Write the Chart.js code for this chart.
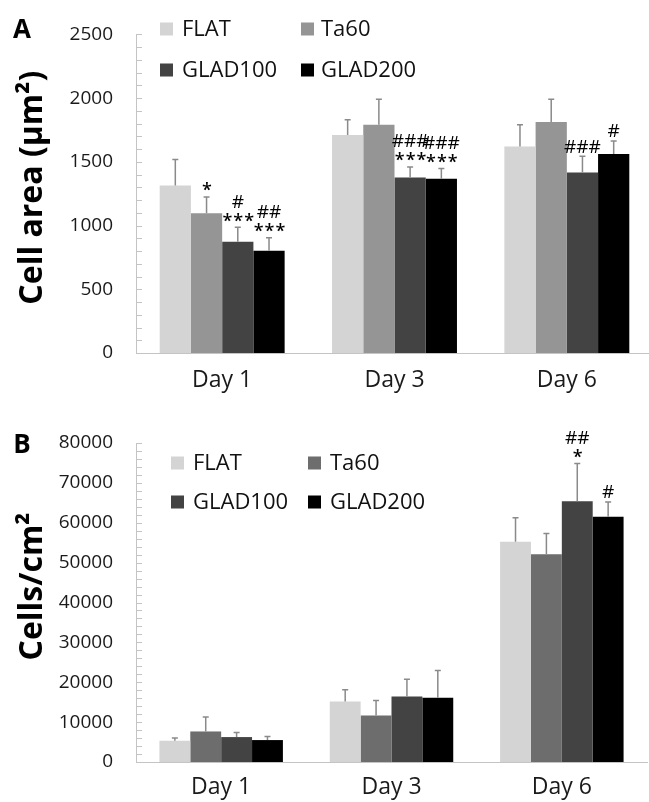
<!DOCTYPE html>
<html><head><meta charset="utf-8">
<script src="https://cdn.jsdelivr.net/npm/chart.js@4.4.1/dist/chart.umd.min.js"></script>
<style>
html,body{margin:0;padding:0;background:#fff;overflow:hidden;width:649px;height:802px;}
canvas{position:absolute;left:0;}
#cA{top:0}
#cB{top:395px}
</style></head><body>
<canvas id="cA" width="653" height="395"></canvas>
<canvas id="cB" width="649" height="407"></canvas>
<script>
// ---------- DATA ----------
const categories = ['Day 1', 'Day 3', 'Day 6'];
const seriesNames = ['FLAT', 'Ta60', 'GLAD100', 'GLAD200'];

// Panel A: cell area (µm²), mean and upper error
const areaFLAT = [1315, 1710, 1620];
const areaFLATErr = [204, 120, 172];
const areaTa60 = [1097, 1792, 1812];
const areaTa60Err = [128, 199, 179];
const areaGLAD100 = [872, 1378, 1416];
const areaGLAD100Err = [115, 82, 128];
const areaGLAD200 = [803, 1367, 1562];
const areaGLAD200Err = [102, 80, 102];
const areaNotesFLAT = [[], [], []];
const areaNotesTa60 = [['*'], [], []];
const areaNotesGLAD100 = [['#', '***'], ['###', '***'], ['###']];
const areaNotesGLAD200 = [['##', '***'], ['###', '***'], ['#']];
const areaTicks = [0, 500, 1000, 1500, 2000, 2500];

// Panel B: cells/cm², mean and upper error
const cellsFLAT = [5330, 15170, 55220];
const cellsFLATErr = [670, 2930, 6010];
const cellsTa60 = [7660, 11670, 52070];
const cellsTa60Err = [3600, 3750, 5250];
const cellsGLAD100 = [6250, 16420, 65400];
const cellsGLAD100Err = [1150, 4360, 9440];
const cellsGLAD200 = [5500, 16100, 61480];
const cellsGLAD200Err = [900, 6830, 3750];
const cellsNotesFLAT = [[], [], []];
const cellsNotesTa60 = [[], [], []];
const cellsNotesGLAD100 = [[], [], ['##', '*']];
const cellsNotesGLAD200 = [[], [], ['#']];
const cellsTicks = [0, 10000, 20000, 30000, 40000, 50000, 60000, 70000, 80000];

// ---------- STYLE ----------
const FONT = "'Open Sans', sans-serif";
const AXIS_COLOR = '#c4c4c4';
const colorsA = ['#d4d4d4', '#959595', '#434343', '#000000'];
const colorsB = ['#d4d4d4', '#6d6d6d', '#434343', '#000000'];

// ---------- PLUGINS ----------
const errorBars = {
  id: 'errorBars',
  afterDatasetsDraw(chart) {
    const ctx = chart.ctx, ys = chart.scales.y;
    chart.data.datasets.forEach((ds, i) => {
      const meta = chart.getDatasetMeta(i);
      meta.data.forEach((bar, j) => {
        const top = ys.getPixelForValue(ds.data[j] + ds.errors[j]);
        ctx.save();
        ctx.strokeStyle = '#8a8a8a';
        ctx.lineWidth = 1.5;
        ctx.beginPath();
        ctx.moveTo(bar.x, bar.y);
        ctx.lineTo(bar.x, top);
        ctx.moveTo(bar.x - 3, top);
        ctx.lineTo(bar.x + 3, top);
        ctx.stroke();
        const lines = ds.notes[j] || [];
        ctx.fillStyle = '#000';
        ctx.textAlign = 'center';
        ctx.textBaseline = 'alphabetic';
        for (let k = 0; k < lines.length; k++) {
          const isStar = lines[k].indexOf('*') >= 0;
          ctx.font = (isStar ? '600 18px ' : '19px ') + FONT;
          ctx.letterSpacing = isStar ? '1px' : '0px';
          const fromBottom = lines.length - 1 - k;
          const cy = top - 10 - fromBottom * 16;
          const m = ctx.measureText(lines[k]);
          ctx.fillText(lines[k], bar.x + (isStar ? 1 : 0), cy + (m.actualBoundingBoxAscent - m.actualBoundingBoxDescent) / 2);
        }
        ctx.restore();
      });
    });
  }
};

const minorTicks = {
  id: 'minorTicks',
  afterDraw(chart, args, opts) {
    const ctx = chart.ctx, s = chart.scales.y;
    ctx.save();
    ctx.strokeStyle = AXIS_COLOR;
    ctx.lineWidth = 1;
    ctx.beginPath();
    for (let v = s.min; v <= s.max + 1e-6; v += opts.step) {
      const py = Math.round(s.getPixelForValue(v)) + 0.5;
      ctx.moveTo(s.right, py);
      ctx.lineTo(s.right + 6, py);
    }
    ctx.stroke();
    ctx.restore();
  }
};

const boxLegend = {
  id: 'boxLegend',
  afterDraw(chart, args, o) {
    const ctx = chart.ctx;
    ctx.save();
    ctx.font = '22px ' + FONT;
    ctx.textBaseline = 'middle';
    ctx.textAlign = 'left';
    chart.data.datasets.forEach((ds, i) => {
      const col = i % 2, row = Math.floor(i / 2);
      const bx = o.boxX[col], tx = o.textX[col], cy = o.rows[row];
      ctx.fillStyle = ds.backgroundColor;
      ctx.fillRect(bx, cy - o.size / 2, o.size, o.size);
      ctx.fillStyle = '#111';
      ctx.fillText(ds.label, tx, cy + 1);
    });
    ctx.restore();
  }
};

const panelText = {
  id: 'panelText',
  afterDraw(chart, args, o) {
    const ctx = chart.ctx;
    ctx.save();
    ctx.fillStyle = '#000';
    ctx.font = 'bold 26px ' + FONT;
    ctx.textAlign = 'center';
    ctx.textBaseline = 'middle';
    ctx.fillText(o.letter, o.letterX, o.letterY);
    const ca = chart.chartArea;
    ctx.translate(o.titleX, (ca.top + ca.bottom) / 2 + o.titleShift);
    ctx.rotate(-Math.PI / 2);
    ctx.font = 'bold 32px ' + FONT;
    ctx.textBaseline = 'alphabetic';
    ctx.fillText(o.title, 0, 0);
    ctx.restore();
  }
};

function makeDatasets(values, errors, notes, colors) {
  return seriesNames.map((name, i) => ({
    label: name,
    data: values[i],
    errors: errors[i],
    notes: notes[i],
    backgroundColor: colors[i],
    borderWidth: 0,
    categoryPercentage: 0.725,
    barPercentage: 1.0
  }));
}

function makeOptions(cfg) {
  return {
    responsive: false,
    animation: false,
    devicePixelRatio: 1,
    layout: { padding: cfg.padding },
    plugins: {
      legend: { display: false },
      tooltip: { enabled: false },
      minorTicks: { step: cfg.minorStep },
      boxLegend: cfg.legend,
      panelText: cfg.panel
    },
    scales: {
      x: {
        grid: { display: false, drawTicks: false },
        border: { display: true, color: AXIS_COLOR, width: 1 },
        ticks: { font: { family: FONT, size: 23 }, color: '#1a1a1a', padding: cfg.xPad, maxRotation: 0 },
        afterFit(s) { s.height = cfg.xHeight; }
      },
      y: {
        min: cfg.ticks[0],
        max: cfg.ticks[cfg.ticks.length - 1],
        grid: { display: false, drawTicks: false },
        border: { display: true, color: AXIS_COLOR, width: 1 },
        ticks: {
          stepSize: cfg.ticks[1] - cfg.ticks[0],
          font: { family: FONT, size: 19 },
          color: '#1a1a1a',
          padding: 23,
          callback: v => String(v)
        },
        afterFit(s) { s.width = 136; }
      }
    }
  };
}

new Chart(document.getElementById('cA'), {
  type: 'bar',
  data: {
    labels: categories,
    datasets: makeDatasets(
      [areaFLAT, areaTa60, areaGLAD100, areaGLAD200],
      [areaFLATErr, areaTa60Err, areaGLAD100Err, areaGLAD200Err],
      [areaNotesFLAT, areaNotesTa60, areaNotesGLAD100, areaNotesGLAD200],
      colorsA)
  },
  options: makeOptions({
    padding: { top: 27, right: 0, bottom: 0, left: 0 },
    xHeight: 42, xPad: 14, minorStep: 100, ticks: areaTicks,
    legend: { boxX: [160, 301], textX: [182, 321], rows: [29, 70], size: 13 },
    panel: { letter: 'A', letterX: 22, letterY: 31, title: 'Cell area (µm²)', titleX: 42, titleShift: -6 }
  }),
  plugins: [errorBars, minorTicks, boxLegend, panelText]
});

new Chart(document.getElementById('cB'), {
  type: 'bar',
  data: {
    labels: categories,
    datasets: makeDatasets(
      [cellsFLAT, cellsTa60, cellsGLAD100, cellsGLAD200],
      [cellsFLATErr, cellsTa60Err, cellsGLAD100Err, cellsGLAD200Err],
      [cellsNotesFLAT, cellsNotesTa60, cellsNotesGLAD100, cellsNotesGLAD200],
      colorsB)
  },
  options: makeOptions({
    padding: { top: 48, right: 2, bottom: 0, left: 0 },
    xHeight: 40, xPad: 12, minorStep: 2000, ticks: cellsTicks,
    legend: { boxX: [171, 308], textX: [193, 330], rows: [68, 107], size: 13 },
    panel: { letter: 'B', letterX: 22, letterY: 51, title: 'Cells/cm²', titleX: 42, titleShift: -16 }
  }),
  plugins: [errorBars, minorTicks, boxLegend, panelText]
});
</script>
</body></html>
